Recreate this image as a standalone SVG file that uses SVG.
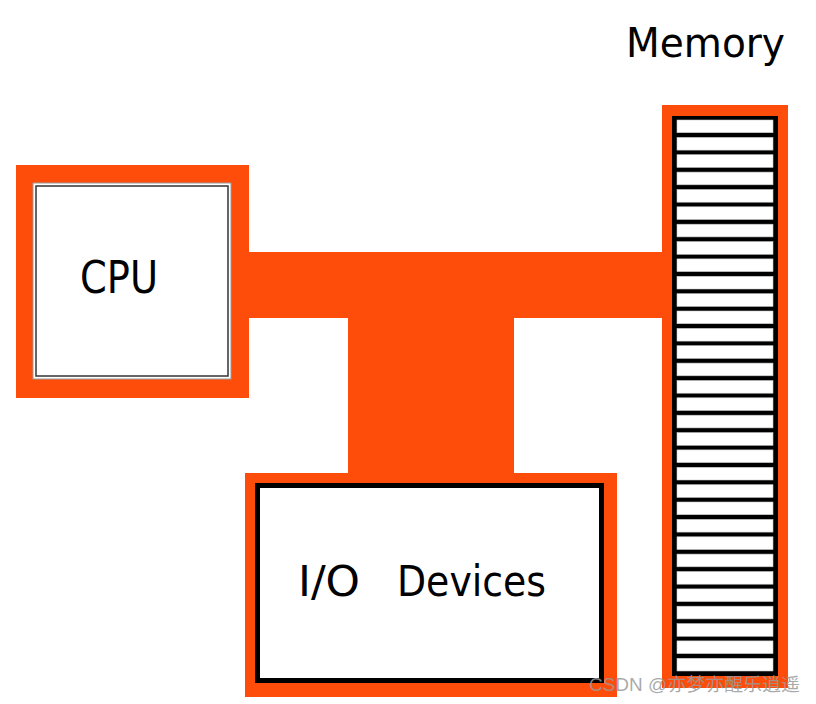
<svg xmlns="http://www.w3.org/2000/svg" width="816" height="704" viewBox="0 0 816 704">
<style>
.org{fill:#FE4D0B}
.lbl{font-family:"DejaVu Sans Condensed","DejaVu Sans",sans-serif;font-stretch:condensed;fill:#000}
.cell{fill:#fff;stroke:#c8c8c8;stroke-width:0.6}
.wm{font-family:"Liberation Sans","Noto Sans CJK SC",sans-serif;font-size:18px;fill:#9a9a9a;fill-opacity:0.85}
</style>
<rect width="816" height="704" fill="#fff"/>
<g id="connectors">
<rect class="org" x="248" y="252" width="425" height="66"/>
<rect class="org" x="348" y="317" width="166" height="157"/>
</g>
<g id="cpu">
<rect class="org" x="16" y="165" width="233" height="233"/>
<rect x="33" y="183" width="198" height="196" fill="#fff" stroke="#9a9a9a" stroke-width="1"/>
<rect x="36" y="186" width="192" height="190" fill="#fff" stroke="#333" stroke-width="1.5"/>
<text class="lbl" x="80" y="293" font-size="44" textLength="78" lengthAdjust="spacingAndGlyphs">CPU</text>
</g>
<g id="io">
<rect class="org" x="245" y="473" width="372" height="224"/>
<rect x="255" y="483" width="349" height="200" fill="#000"/>
<rect x="260" y="488" width="339" height="190" fill="#fff"/>
<text class="lbl" x="298" y="596" font-size="43"><tspan textLength="62" lengthAdjust="spacingAndGlyphs">I/O</tspan> <tspan x="397" textLength="149" lengthAdjust="spacingAndGlyphs">Devices</tspan></text>
</g>
<g id="memory">
<text class="lbl" x="626" y="57" font-size="41" textLength="159" lengthAdjust="spacingAndGlyphs">Memory</text>
<rect class="org" x="662" y="105" width="126" height="583"/>
<rect x="672" y="116" width="106" height="560" fill="#000"/>
<g id="memory-cells">
<rect class="cell" x="677" y="120.0" width="96" height="12.7"/>
<rect class="cell" x="677" y="137.4" width="96" height="12.7"/>
<rect class="cell" x="677" y="154.7" width="96" height="12.7"/>
<rect class="cell" x="677" y="172.1" width="96" height="12.7"/>
<rect class="cell" x="677" y="189.5" width="96" height="12.7"/>
<rect class="cell" x="677" y="206.8" width="96" height="12.7"/>
<rect class="cell" x="677" y="224.2" width="96" height="12.7"/>
<rect class="cell" x="677" y="241.6" width="96" height="12.7"/>
<rect class="cell" x="677" y="258.9" width="96" height="12.7"/>
<rect class="cell" x="677" y="276.3" width="96" height="12.7"/>
<rect class="cell" x="677" y="293.7" width="96" height="12.7"/>
<rect class="cell" x="677" y="311.0" width="96" height="12.7"/>
<rect class="cell" x="677" y="328.4" width="96" height="12.7"/>
<rect class="cell" x="677" y="345.7" width="96" height="12.7"/>
<rect class="cell" x="677" y="363.1" width="96" height="12.7"/>
<rect class="cell" x="677" y="380.5" width="96" height="12.7"/>
<rect class="cell" x="677" y="397.8" width="96" height="12.7"/>
<rect class="cell" x="677" y="415.2" width="96" height="12.7"/>
<rect class="cell" x="677" y="432.6" width="96" height="12.7"/>
<rect class="cell" x="677" y="449.9" width="96" height="12.7"/>
<rect class="cell" x="677" y="467.3" width="96" height="12.7"/>
<rect class="cell" x="677" y="484.7" width="96" height="12.7"/>
<rect class="cell" x="677" y="502.0" width="96" height="12.7"/>
<rect class="cell" x="677" y="519.4" width="96" height="12.7"/>
<rect class="cell" x="677" y="536.8" width="96" height="12.7"/>
<rect class="cell" x="677" y="554.1" width="96" height="12.7"/>
<rect class="cell" x="677" y="571.5" width="96" height="12.7"/>
<rect class="cell" x="677" y="588.9" width="96" height="12.7"/>
<rect class="cell" x="677" y="606.2" width="96" height="12.7"/>
<rect class="cell" x="677" y="623.6" width="96" height="12.7"/>
<rect class="cell" x="677" y="640.9" width="96" height="12.7"/>
<rect class="cell" x="677" y="658.3" width="96" height="12.7"/>
</g>
</g>
<text class="wm" x="589" y="691" textLength="211" lengthAdjust="spacingAndGlyphs">CSDN @亦梦亦醒乐逍遥</text>
</svg>
